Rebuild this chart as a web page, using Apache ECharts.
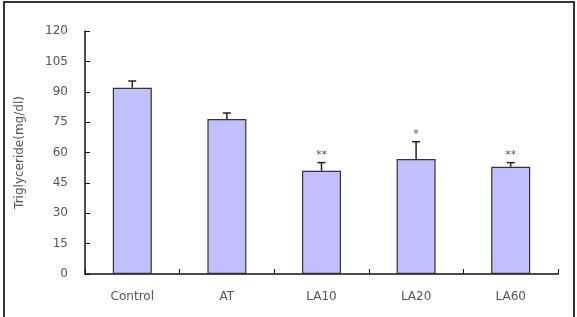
<!DOCTYPE html>
<html>
<head>
<meta charset="utf-8">
<script src="https://cdn.jsdelivr.net/npm/echarts@6/dist/echarts.min.js"></script>
<style>
  html, body { margin: 0; padding: 0; background: #fff; }
  #main { width: 577px; height: 317px; }
</style>
</head>
<body>
<div id="main"></div>
<script>
// data
var groups = ['Control', 'AT', 'LA10', 'LA20', 'LA60'];
var means = [92, 76.5, 51, 56.8, 53];
var errors = [3.3, 3, 4, 8.5, 2];
var marks = ['', '', '**', '*', '**'];
var yTicks = [0, 15, 30, 45, 60, 75, 90, 105, 120];

var myChart = echarts.init(document.getElementById('main'));

// error bar with cap, star label above
function renderError(params, api) {
  var x = api.value(0);
  var lo = api.coord([x, api.value(1)]);
  var hi = api.coord([x, api.value(2)]);
  var cap = 4;
  var style = { stroke: '#222', lineWidth: 1.5 };
  var children = [
    { type: 'line', shape: { x1: lo[0], y1: lo[1], x2: hi[0], y2: hi[1] }, style: style },
    { type: 'line', shape: { x1: hi[0] - cap, y1: hi[1], x2: hi[0] + cap, y2: hi[1] }, style: style }
  ];
  var star = marks[params.dataIndex];
  if (star) {
    children.push({
      type: 'text',
      style: {
        text: star, x: hi[0], y: hi[1] - 2,
        align: 'center', verticalAlign: 'bottom',
        fill: '#555', font: '11px "DejaVu Sans", sans-serif'
      }
    });
  }
  return { type: 'group', children: children };
}

var errData = groups.map(function (g, i) {
  return [i, means[i], means[i] + errors[i]];
});

var option = {
  animation: false,
  backgroundColor: '#fff',
  textStyle: { fontFamily: '"DejaVu Sans", sans-serif' },
  graphic: [{
    type: 'rect',
    shape: { x: 4, y: 2, width: 570, height: 320 },
    style: { fill: 'none', stroke: '#333', lineWidth: 2 },
    silent: true
  }],
  grid: { left: 85, right: 19, top: 31, bottom: 43, containLabel: false },
  xAxis: {
    type: 'category',
    data: groups,
    axisLine: { lineStyle: { color: '#111', width: 1.5 } },
    axisTick: { show: true, inside: true, length: 5, alignWithLabel: false, lineStyle: { color: '#111' } },
    axisLabel: { color: '#555', fontSize: 12, margin: 17 }
  },
  yAxis: {
    type: 'value',
    min: 0, max: 120, interval: 15,
    name: 'Triglyceride(mg/dl)',
    nameLocation: 'middle',
    nameGap: 59,
    nameTextStyle: { color: '#555', fontSize: 12 },
    axisLine: { show: true, lineStyle: { color: '#111', width: 1.5 } },
    axisTick: { show: true, inside: true, length: 5, lineStyle: { color: '#111' } },
    splitLine: { show: false },
    axisLabel: {
      color: '#555', fontSize: 12, margin: 17,
      formatter: function (v) { return yTicks.indexOf(v) >= 0 ? String(v) : ''; }
    }
  },
  series: [{
    type: 'bar',
    data: means,
    barWidth: 39,
    itemStyle: { color: '#c0c0ff', borderColor: '#333', borderWidth: 1.2 }
  }, {
    type: 'custom',
    renderItem: renderError,
    data: errData,
    encode: { x: 0, y: [1, 2] },
    z: 3
  }]
};

myChart.setOption(option);
</script>
</body>
</html>
